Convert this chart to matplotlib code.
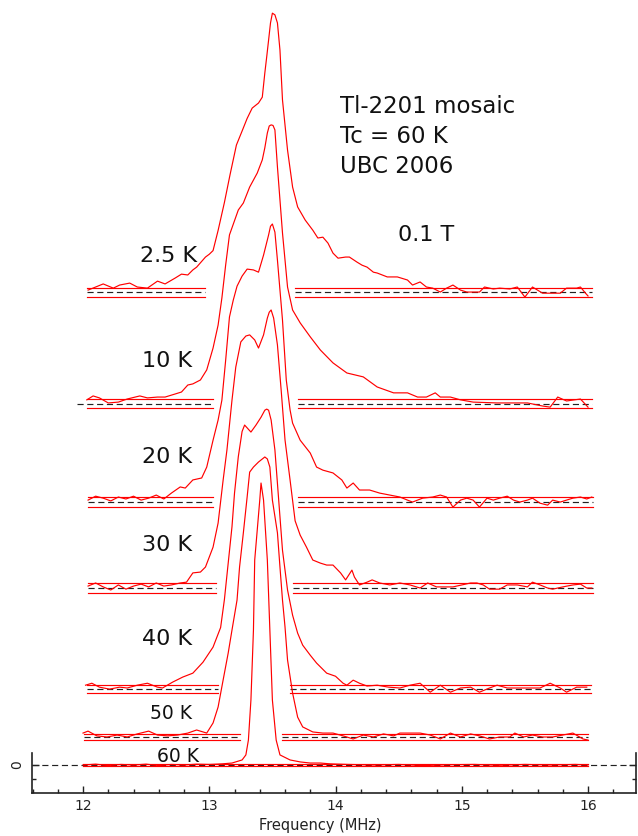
import matplotlib
matplotlib.use("Agg")
import matplotlib.pyplot as plt
from matplotlib.ticker import MultipleLocator, FixedLocator

plt.rcParams['font.family'] = ['DejaVu Sans']

# ---- data -------------------------------------------------------------
temperatures = ["2.5 K", "10 K", "20 K", "30 K", "40 K", "50 K", "60 K"]
offsets = [168.9, 129.1, 93.9, 63.2, 27.1, 10.0, 0.0]        # vertical stacking
noise_sigma = [1.6, 1.6, 1.8, 1.8, 1.4, 1.1, 0.5]            # baseline noise band
base_left = [(12.03, 12.97), (12.03, 13.03), (12.04, 13.03), (12.04, 13.05),
             (12.03, 13.07), (12.01, 13.24), (12.00, 16.00)]
base_right = [(13.68, 16.03), (13.70, 16.03), (13.70, 16.04), (13.66, 16.04),
              (13.64, 16.02), (13.58, 16.00), None]

f_2p5K = [12.04, 12.16, 12.24, 12.29, 12.37, 12.43, 12.51, 12.59, 12.65, 12.73, 12.78, 12.83,
          12.87, 12.90, 12.97, 13.00, 13.03, 13.07, 13.12, 13.165, 13.215, 13.26, 13.30, 13.34,
          13.39, 13.42, 13.44, 13.455, 13.47, 13.485, 13.50, 13.52, 13.54, 13.56, 13.58, 13.62,
          13.66, 13.70, 13.76, 13.82, 13.86, 13.90, 13.94, 13.98, 14.02, 14.08, 14.11, 14.17,
          14.21, 14.25, 14.30, 14.33, 14.41, 14.49, 14.57, 14.61, 14.67, 14.72, 14.77, 14.83,
          14.88, 14.93, 14.99, 15.04, 15.09, 15.14, 15.18, 15.25, 15.30, 15.38, 15.44, 15.50,
          15.56, 15.64, 15.71, 15.78, 15.83, 15.91, 15.94, 15.98, 16.00]
s_2p5K = [0.7, 2.9, 1.4, 2.5, 3.2, 1.8, 1.4, 3.9, 2.9, 5.0, 6.4, 6.1,
          7.9, 8.9, 12.5, 13.5, 14.8, 22.0, 32.0, 42.0, 52.5, 57.5, 62.0, 65.7,
          67.5, 69.6, 78.2, 84.0, 90.0, 96.1, 99.6, 99.0, 96.1, 86.4, 68.6, 50.7,
          37.5, 30.4, 25.7, 22.1, 19.3, 19.6, 17.5, 13.9, 12.1, 12.5, 12.5, 10.7,
          9.6, 8.9, 7.1, 6.8, 5.4, 5.4, 4.3, 2.5, 3.6, 1.8, 1.4, 0.0,
          1.4, 2.5, 0.7, 0.0, 0.0, 0.0, 1.8, 1.1, 1.4, 1.1, 1.8, -1.8,
          1.8, -0.4, -0.4, -0.4, 1.4, 1.4, 1.8, -0.4, -1.4]

f_10K = [12.03, 12.08, 12.13, 12.20, 12.28, 12.35, 12.45, 12.51, 12.59, 12.65, 12.73, 12.78,
         12.83, 12.87, 12.93, 12.98, 13.03, 13.07, 13.10, 13.13, 13.16, 13.23, 13.27, 13.32,
         13.38, 13.42, 13.44, 13.46, 13.475, 13.49, 13.505, 13.52, 13.54, 13.58, 13.62, 13.66,
         13.72, 13.80, 13.88, 13.98, 14.09, 14.22, 14.33, 14.46, 14.57, 14.65, 14.72, 14.79,
         14.83, 14.91, 14.99, 15.09, 15.28, 15.41, 15.52, 15.64, 15.70, 15.76, 15.83, 15.94,
         16.00]
s_10K = [1.3, 2.7, 2.0, 0.2, 0.5, 1.6, 2.7, 2.0, 2.3, 2.3, 3.4, 4.1,
         6.6, 7.0, 8.4, 12.0, 19.8, 28.0, 37.7, 49.5, 60.2, 69.1, 71.6, 77.3,
         82.3, 87.0, 91.3, 96.6, 99.1, 99.5, 99.3, 97.7, 84.5, 60.9, 41.6, 33.4,
         28.8, 23.8, 19.1, 14.5, 10.9, 9.5, 5.9, 3.8, 3.8, 2.3, 2.3, 3.8,
         2.3, 2.3, 1.3, 0.5, 0.2, 0.2, 0.2, -0.9, -1.3, 2.3, 0.9, 1.6,
         -1.3]

f_20K = [12.04, 12.10, 12.16, 12.22, 12.28, 12.34, 12.40, 12.46, 12.52, 12.58, 12.64, 12.70,
         12.77, 12.81, 12.87, 12.94, 12.98, 13.03, 13.07, 13.10, 13.13, 13.16, 13.19, 13.22,
         13.26, 13.30, 13.35, 13.39, 13.43, 13.47, 13.485, 13.50, 13.52, 13.54, 13.58, 13.61,
         13.64, 13.66, 13.72, 13.80, 13.85, 13.90, 13.98, 14.05, 14.09, 14.14, 14.19, 14.27,
         14.35, 14.43, 14.51, 14.57, 14.61, 14.69, 14.77, 14.83, 14.88, 14.93, 14.99, 15.04,
         15.09, 15.14, 15.20, 15.25, 15.30, 15.36, 15.41, 15.46, 15.52, 15.56, 15.62, 15.68,
         15.72, 15.78, 15.83, 15.88, 15.94, 15.99, 16.03]
s_20K = [0.7, 2.1, 1.4, 0.4, 1.8, 1.1, 2.1, 0.7, 1.4, 2.5, 1.1, 3.2,
         5.4, 5.0, 7.9, 8.6, 12.5, 22.1, 29.3, 36.4, 50.7, 66.1, 72.1, 77.1,
         80.7, 83.2, 82.9, 82.1, 88.2, 95.4, 98.5, 99.3, 96.4, 86.4, 65.0, 43.6,
         32.9, 28.2, 22.1, 17.5, 12.5, 11.4, 10.4, 7.9, 5.0, 6.8, 4.3, 4.3,
         3.2, 2.5, 1.8, 0.7, 0.0, 1.4, 1.8, 2.5, 1.8, -1.8, 0.7, 1.4,
         0.7, -1.8, 1.4, 0.7, 1.4, 2.1, 0.7, 0.0, 0.7, 1.4, -0.4, -1.1,
         0.7, 0.0, 0.7, 1.4, 1.8, 1.1, 1.8]

f_30K = [12.04, 12.10, 12.16, 12.22, 12.28, 12.34, 12.40, 12.46, 12.52, 12.58, 12.64, 12.70,
         12.77, 12.82, 12.87, 12.93, 12.97, 13.03, 13.07, 13.11, 13.14, 13.18, 13.21, 13.25,
         13.29, 13.32, 13.36, 13.39, 13.43, 13.46, 13.475, 13.49, 13.51, 13.54, 13.57, 13.60,
         13.64, 13.68, 13.72, 13.77, 13.82, 13.88, 13.93, 13.98, 14.04, 14.08, 14.13, 14.15,
         14.19, 14.25, 14.29, 14.35, 14.43, 14.51, 14.59, 14.67, 14.73, 14.80, 14.85, 14.93,
         15.00, 15.07, 15.12, 15.17, 15.22, 15.30, 15.36, 15.44, 15.52, 15.56, 15.62, 15.68,
         15.72, 15.80, 15.88, 15.94, 15.99, 16.03]
s_30K = [0.7, 1.8, 0.4, -0.7, 1.1, -0.4, 0.7, 1.4, 0.4, 1.8, 0.7, 1.1,
         1.8, 2.1, 5.4, 5.7, 7.5, 14.6, 23.2, 38.6, 49.3, 67.1, 78.9, 87.9,
         90.0, 90.4, 88.6, 85.7, 90.4, 96.4, 98.5, 99.3, 96.4, 86.8, 70.4, 52.9,
         38.6, 24.0, 18.9, 14.6, 10.0, 8.9, 8.2, 8.2, 5.4, 2.9, 6.4, 3.9,
         1.1, 2.1, 2.9, 1.8, 1.1, 1.8, 1.1, 0.0, 1.8, 0.4, 0.4, 0.4,
         1.1, 1.8, 1.8, 1.1, -0.4, -0.4, 1.1, 1.1, 0.4, 2.1, 1.1, 0.0,
         -0.4, 0.4, 1.1, 1.4, 0.0, 0.0]

f_40K = [12.02, 12.07, 12.13, 12.21, 12.29, 12.35, 12.43, 12.51, 12.59, 12.63, 12.71, 12.79,
         12.87, 12.95, 13.03, 13.09, 13.12, 13.15, 13.18, 13.20, 13.23, 13.26, 13.28, 13.33,
         13.37, 13.41, 13.44, 13.455, 13.47, 13.49, 13.52, 13.55, 13.58, 13.62, 13.66, 13.70,
         13.74, 13.80, 13.85, 13.93, 14.00, 14.06, 14.09, 14.14, 14.19, 14.25, 14.33, 14.42,
         14.51, 14.59, 14.67, 14.75, 14.83, 14.91, 14.99, 15.07, 15.14, 15.22, 15.28, 15.36,
         15.46, 15.54, 15.62, 15.70, 15.78, 15.83, 15.91, 15.99]
s_40K = [1.4, 2.1, 0.7, 0.0, 0.7, 0.4, 1.4, 2.1, 0.7, 0.4, 2.5, 4.3,
         5.7, 9.6, 15.0, 22.0, 32.0, 45.0, 58.0, 70.0, 83.0, 92.0, 94.3, 91.8,
         94.3, 97.1, 99.6, 100.0, 99.6, 96.1, 85.4, 67.5, 49.6, 35.4, 26.4, 20.0,
         15.7, 12.1, 9.3, 5.7, 4.6, 2.1, 1.4, 3.2, 2.1, 1.1, 1.4, 0.7,
         0.4, 1.4, 2.1, -1.1, 1.4, -1.1, 0.4, 0.7, -1.1, 0.4, 1.4, 0.4,
         0.4, 0.4, 0.4, 2.1, 0.4, -1.1, 0.7, 0.7]

f_50K = [12.00, 12.04, 12.11, 12.19, 12.27, 12.35, 12.43, 12.52, 12.59, 12.67, 12.75, 12.83,
         12.90, 12.98, 13.03, 13.07, 13.11, 13.15, 13.18, 13.22, 13.24, 13.27, 13.30, 13.32,
         13.35, 13.39, 13.44, 13.46, 13.48, 13.50, 13.54, 13.56, 13.58, 13.60, 13.62, 13.66,
         13.70, 13.74, 13.82, 13.90, 13.98, 14.06, 14.14, 14.22, 14.30, 14.38, 14.46, 14.51,
         14.57, 14.67, 14.75, 14.83, 14.91, 14.99, 15.07, 15.14, 15.22, 15.30, 15.38, 15.42,
         15.49, 15.56, 15.64, 15.72, 15.80, 15.88, 15.96, 16.00]
s_50K = [1.4, 2.1, 0.4, 0.0, 0.7, 0.0, 1.1, 2.1, 0.7, 0.4, 0.7, 1.4,
         2.5, 1.4, 5.0, 10.7, 20.4, 30.0, 38.2, 48.9, 60.7, 72.9, 85.7, 94.6,
         96.4, 98.2, 100.0, 99.3, 96.4, 84.6, 72.9, 60.7, 48.9, 39.3, 27.5, 15.7,
         7.1, 3.6, 1.8, 1.4, 1.4, 0.4, -0.7, 0.7, 0.0, 1.1, 0.4, 1.4,
         1.4, 1.4, 0.7, -0.7, 1.4, 0.0, 1.1, 0.4, -0.7, 0.0, 0.0, 1.4,
         0.0, 0.7, 0.0, 0.0, 0.7, 1.4, -0.7, -1.1]

f_60K = [12.00, 12.10, 12.20, 12.30, 12.40, 12.50, 12.60, 12.70, 12.80, 12.90, 13.00, 13.10,
         13.18, 13.26, 13.29, 13.31, 13.33, 13.35, 13.36, 13.40, 13.41, 13.43, 13.46, 13.48,
         13.50, 13.53, 13.56, 13.64, 13.72, 13.80, 13.88, 13.96, 14.10, 14.30, 14.50, 14.70,
         14.90, 15.10, 15.30, 15.50, 15.70, 15.90, 16.00]
s_60K = [0.0, 0.3, -0.2, 0.2, 0.0, 0.3, -0.2, 0.2, 0.0, 0.3, 0.2, 0.4,
         0.7, 1.8, 3.6, 8.9, 23.2, 48.2, 73.2, 94.6, 100.7, 94.6, 73.2, 48.2,
         23.2, 8.9, 3.6, 1.8, 1.1, 0.7, 0.7, 0.4, 0.2, 0.0, 0.2, -0.2,
         0.1, 0.2, -0.1, 0.2, 0.0, 0.2, 0.0]

freqs = [f_2p5K, f_10K, f_20K, f_30K, f_40K, f_50K, f_60K]
spectra = [s_2p5K, s_10K, s_20K, s_30K, s_40K, s_50K, s_60K]

# ---- figure -----------------------------------------------------------
W, H = 638, 836
fig = plt.figure(figsize=(W / 100, H / 100), dpi=100)
ax = fig.add_axes([32 / W, 43 / H, 604 / W, 793 / H])
ax.set_xlim(11.596, 16.380)
ax.set_ylim(-10, 273.2)

red = '#ff0000'
dash = (0, (5.2, 3.1))
lw = 0.85

# zero line across the whole frame
ax.axhline(0, color='#222222', lw=lw, ls=dash, zorder=2)

for i, (f, s) in enumerate(zip(freqs, spectra)):
    off = offsets[i]
    sig = noise_sigma[i]
    segs = [base_left[i]] + ([base_right[i]] if base_right[i] else [])
    for j, (lo, hi) in enumerate(segs):
        if i != len(freqs) - 1:
            dlo = lo - 0.08 if (i == 1 and j == 0) else lo
            ax.plot([dlo, hi], [off, off], color='#222222', lw=lw, ls=dash, zorder=2)
        ax.plot([lo, hi], [off + sig, off + sig], color=red, lw=lw, zorder=3)
        ax.plot([lo, hi], [off - sig, off - sig], color=red, lw=lw, zorder=3)
    ax.plot(f, [off + v for v in s], color=red, lw=lw, zorder=4,
            solid_joinstyle='round')

# temperature labels
label_pos = [(12.451, 179.8, 16), (12.467, 142.1, 16), (12.467, 107.7, 16),
             (12.467, 76.3, 16), (12.467, 43.0, 16), (12.531, 16.4, 13.5),
             (12.586, 1.1, 13.5)]
for t, (x, y, fs) in zip(temperatures, label_pos):
    ax.text(x, y, t, fontsize=fs, ha='left', va='baseline', color='#111111', zorder=5)

ax.text(14.717, 187.1, "0.1 T", fontsize=16, ha='center', va='baseline', color='#111111')
ax.text(14.036, 232.9, "Tl-2201 mosaic", fontsize=16.5, ha='left', va='baseline', color='#111111')
ax.text(14.036, 222.1, "Tc = 60 K", fontsize=16.5, ha='left', va='baseline', color='#111111')
ax.text(14.036, 211.4, "UBC 2006", fontsize=16.5, ha='left', va='baseline', color='#111111')

# frame
ax.spines['top'].set_visible(False)
for side in ('left', 'right', 'bottom'):
    ax.spines[side].set_color('#222222')
    ax.spines[side].set_linewidth(1.2)
ax.spines['left'].set_bounds(-10, 4.3)
ax.spines['right'].set_bounds(-10, 4.3)

ax.xaxis.set_major_locator(FixedLocator([12, 13, 14, 15, 16]))
ax.xaxis.set_minor_locator(MultipleLocator(0.2))
ax.yaxis.set_major_locator(FixedLocator([0]))
ax.yaxis.set_minor_locator(FixedLocator([-5]))
ax.set_yticklabels(['0'], rotation=90, va='center')
ax.tick_params(which='both', direction='in', top=False, right=True, colors='#222222',
               labelsize=10, labelcolor='#222222')
ax.tick_params(which='major', length=5, width=1.0)
ax.tick_params(which='minor', length=3, width=1.0)
ax.tick_params(axis='x', pad=4)
ax.tick_params(axis='y', pad=6)
ax.set_xlabel("Frequency (MHz)", fontsize=10.5, color='#222222', va='center')
ax.xaxis.set_label_coords(0.478, -0.0416)

fig.savefig("out.png", dpi=100)
